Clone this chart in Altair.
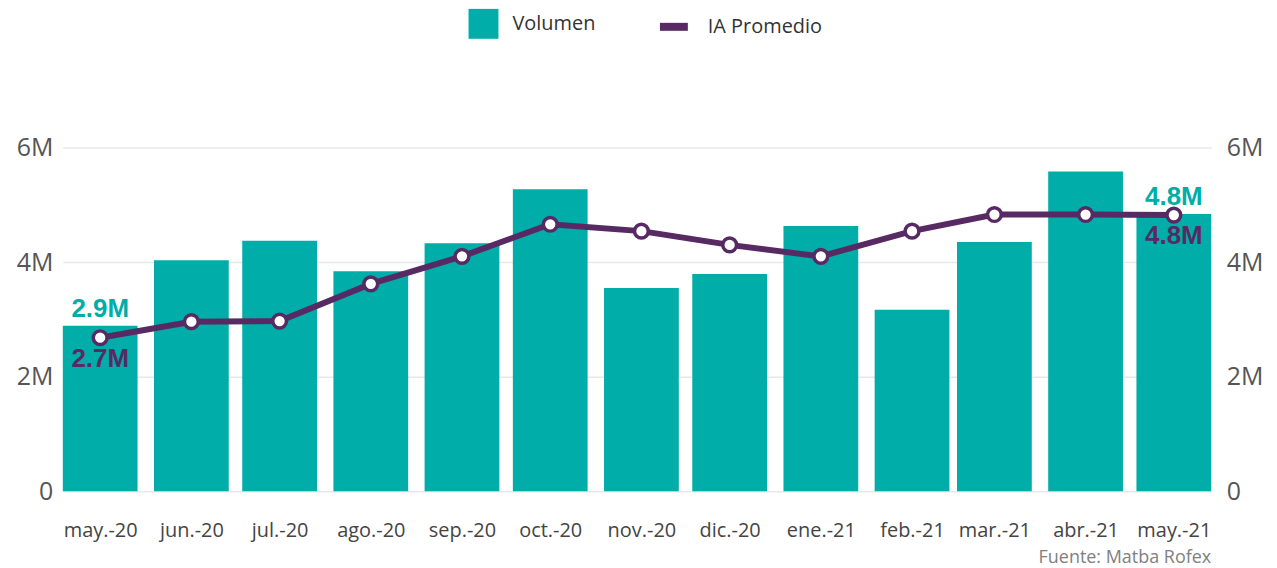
import altair as alt
import pandas as pd

# ---- data ----
fechas = ["2020-05-01", "2020-06-01", "2020-07-01", "2020-08-01", "2020-09-01",
          "2020-10-01", "2020-11-01", "2020-12-01", "2021-01-01", "2021-02-01",
          "2021-03-01", "2021-04-01", "2021-05-01"]
volumen = [2.89e6, 4.03e6, 4.37e6, 3.84e6, 4.33e6, 5.27e6, 3.55e6, 3.79e6,
           4.63e6, 3.17e6, 4.35e6, 5.58e6, 4.84e6]
ia_promedio = [2.68e6, 2.96e6, 2.97e6, 3.62e6, 4.10e6, 4.66e6, 4.54e6, 4.30e6,
               4.10e6, 4.54e6, 4.83e6, 4.83e6, 4.82e6]
etiqueta = [True, False, False, False, False, False, False, False, False,
            False, False, False, True]
meses_es = ["ene", "feb", "mar", "abr", "may", "jun", "jul", "ago", "sep",
            "oct", "nov", "dic"]
y_ticks = [0, 2e6, 4e6, 6e6]

TEAL = "#00ADA9"
PURPLE = "#582A64"
FONT = "Open Sans"
LABEL_FONT = "Liberation Sans"

df = pd.DataFrame({"fecha": fechas, "vol": volumen, "ia": ia_promedio,
                   "etiqueta": etiqueta})

ms = [int(pd.Timestamp(f, tz="UTC").value // 10**6) for f in fechas]
day = 86400000
pad_days = 12.7
x_domain = [ms[0] - pad_days * day, ms[-1] + pad_days * day]

label_expr = ("[" + ",".join(f"'{m}'" for m in meses_es) +
              "][utcmonth(datum.value)] + '.-' + utcFormat(datum.value, '%y')")
y_label_expr = "datum.value == 0 ? '0' : format(datum.value, '~s')"

x_enc = alt.X("fecha:T",
              scale=alt.Scale(type="utc", domain=x_domain, padding=0),
              axis=alt.Axis(values=ms, labelExpr=label_expr, title=None,
                            grid=False, ticks=False, domain=False,
                            labelFontSize=20, labelFont=FONT,
                            labelColor="#444444", labelPadding=45,
                            labelBaseline="alphabetic",
                            labelOverlap=False, labelFlush=False))

y_scale = alt.Scale(domain=[0, 6e6], nice=False)

base = alt.Chart(df).encode(x=x_enc)

bars = base.mark_bar(size=75, color=TEAL).encode(
    y=alt.Y("vol:Q", scale=y_scale,
            axis=alt.Axis(values=y_ticks, labelExpr=y_label_expr, title=None,
                          orient="left", grid=True, gridColor="#e8e8e8",
                          gridWidth=1.5, ticks=False, domain=False,
                          labelFontSize=25, labelFont=FONT,
                          labelColor="#555555", labelPadding=10)),
    color=alt.Color("serie_v:N",
                    scale=alt.Scale(domain=["Volumen"], range=[TEAL]),
                    legend=alt.Legend(orient="none", legendX=407, legendY=-139,
                                      title=None, symbolType="square",
                                      symbolSize=900, symbolStrokeWidth=0,
                                      labelFontSize=20, labelFont=FONT,
                                      labelColor="#333333", labelOffset=14,
                                      padding=0)),
).transform_calculate(serie_v="'Volumen'")

line = base.mark_line(strokeWidth=6).encode(
    y=alt.Y("ia:Q", scale=y_scale,
            axis=alt.Axis(values=y_ticks, labelExpr=y_label_expr, title=None,
                          orient="right", grid=False, ticks=False, domain=False,
                          labelFontSize=25, labelFont=FONT,
                          labelColor="#555555", labelPadding=15)),
    stroke=alt.Stroke("serie_i:N",
                      scale=alt.Scale(domain=["IA Promedio"], range=[PURPLE]),
                      legend=alt.Legend(orient="none", legendX=595, legendY=-139,
                                        title=None, symbolType="stroke",
                                        symbolSize=784, symbolStrokeWidth=8,
                                        labelFontSize=20, labelFont=FONT,
                                        labelColor="#333333", labelOffset=16,
                                        padding=0)),
).transform_calculate(serie_i="'IA Promedio'")

points = base.mark_point(filled=True, fill="white", stroke=PURPLE,
                         strokeWidth=3.5, size=190, opacity=1).encode(
    y=alt.Y("ia:Q", scale=y_scale, axis=None))

txt_vol = base.mark_text(font=LABEL_FONT, fontWeight="bold", fontSize=26,
                         color=TEAL, baseline="alphabetic", dy=-9).encode(
    y=alt.Y("vol:Q", scale=y_scale, axis=None),
    text=alt.Text("vol:Q", format=".2s"),
).transform_filter("datum.etiqueta")

txt_ia = base.mark_text(font=LABEL_FONT, fontWeight="bold", fontSize=26,
                        color=PURPLE, baseline="alphabetic", dy=29).encode(
    y=alt.Y("ia:Q", scale=y_scale, axis=None),
    text=alt.Text("ia:Q", format=".2s"),
).transform_filter("datum.etiqueta")

chart = alt.layer(bars, txt_vol, line, points, txt_ia).resolve_scale(
    y="independent"
).properties(
    width=1152, height=345,
    title=alt.TitleParams(text="Fuente: Matba Rofex", orient="bottom",
                          anchor="end", frame="group", font=FONT, fontSize=18,
                          fontWeight="normal", color="#808080",
                          baseline="alphabetic", offset=23),
    autosize=alt.AutoSizeParams(type="none"),
    padding={"left": 55, "top": 139, "right": 58, "bottom": 76},
).configure_view(stroke=None)

chart.save("out.html", embed_options={"renderer": "svg", "actions": False})
